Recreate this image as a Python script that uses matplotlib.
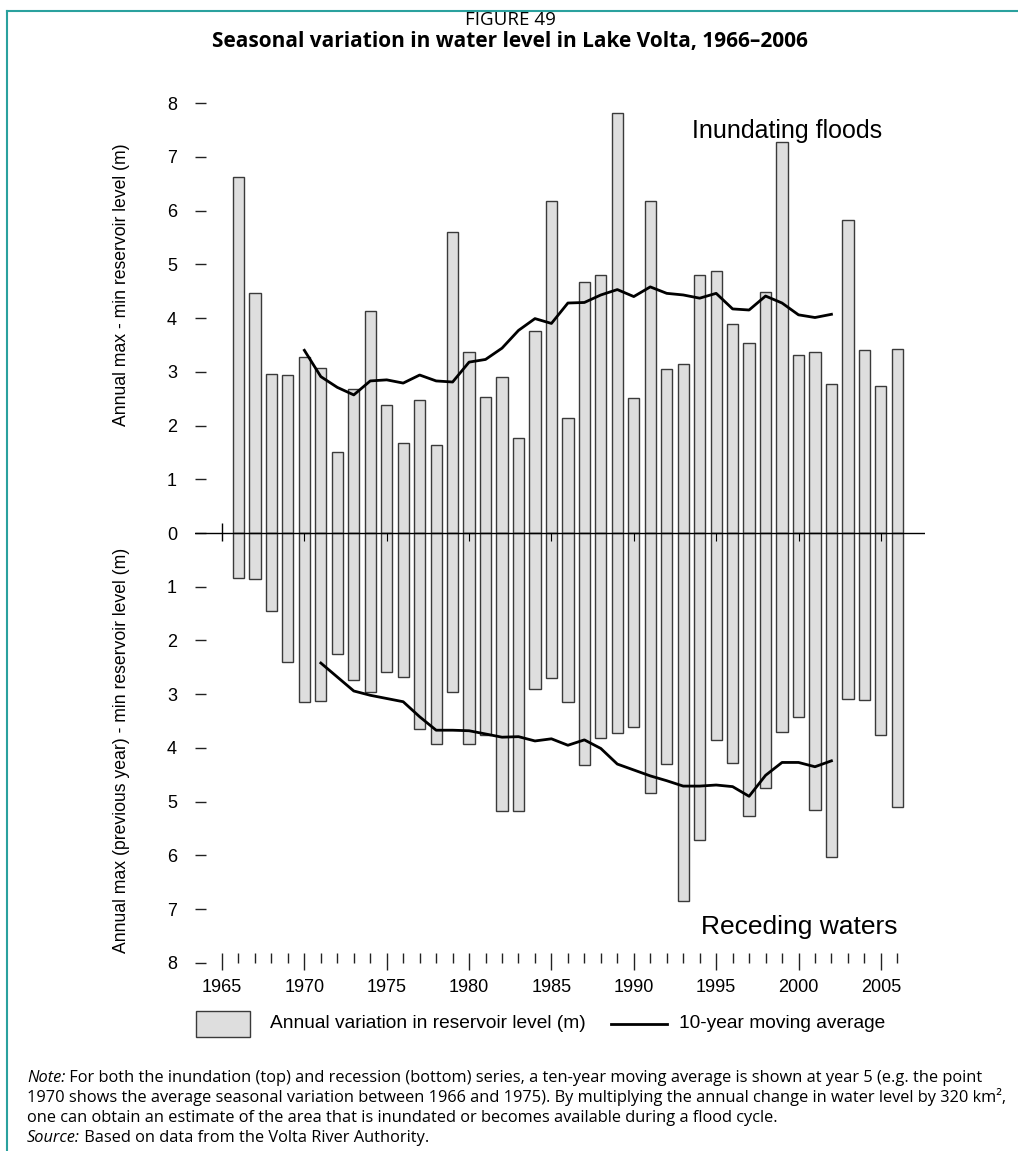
import numpy as np
import matplotlib
matplotlib.use('Agg')
import matplotlib.pyplot as plt
from matplotlib.patches import Rectangle
from matplotlib.lines import Line2D
from matplotlib.ticker import FixedLocator

plt.rcParams['font.family'] = ['Liberation Sans', 'DejaVu Sans']

# annual water-level swing (m), 1966-2006
years = np.arange(1966, 2007)
rise = [6.62, 4.46, 2.95, 2.94, 3.27, 3.07, 1.50, 2.68, 4.14, 2.38,
        1.67, 2.48, 1.63, 5.60, 3.36, 2.53, 2.90, 1.76, 3.76, 6.17,
        2.14, 4.68, 4.81, 7.82, 2.52, 6.18, 3.05, 3.14, 4.81, 4.88,
        3.89, 3.53, 4.48, 7.28, 3.32, 3.36, 2.77, 5.82, 3.41, 2.74, 3.43]
fall = [0.84, 0.86, 1.46, 2.40, 3.15, 3.13, 2.26, 2.74, 2.95, 2.58,
        2.68, 3.64, 3.93, 2.95, 3.92, 3.76, 5.17, 5.17, 2.91, 2.70,
        3.15, 4.32, 3.81, 3.73, 3.61, 4.83, 4.30, 6.84, 5.72, 3.86,
        4.28, 5.26, 4.75, 3.71, 3.43, 5.15, 6.03, 3.09, 3.10, 3.76, 5.09]

# ten-year moving averages
ma_rise_years = np.arange(1970, 2003)
ma_rise = [3.40, 2.91, 2.71, 2.57, 2.83, 2.85, 2.79, 2.94, 2.83, 2.81,
           3.18, 3.23, 3.44, 3.77, 3.99, 3.90, 4.28, 4.29, 4.43, 4.53,
           4.40, 4.58, 4.46, 4.43, 4.37, 4.46, 4.17, 4.15, 4.41, 4.28,
           4.06, 4.01, 4.07]
ma_fall_years = np.arange(1971, 2003)
ma_fall = [2.42, 2.68, 2.94, 3.02, 3.08, 3.14, 3.42, 3.67, 3.67, 3.68,
           3.74, 3.80, 3.79, 3.87, 3.83, 3.95, 3.85, 4.01, 4.30, 4.41,
           4.52, 4.61, 4.71, 4.71, 4.69, 4.72, 4.90, 4.51, 4.27, 4.27,
           4.35, 4.24]

yticks = np.arange(-8, 9)
tick_years = np.arange(1965, 2007)
label_years = np.arange(1965, 2006, 5)

W, H = 1018, 1151
fig = plt.figure(figsize=(W / 100, H / 100), dpi=100)


def fx(px):
    return px / W


def fy(py):
    return 1 - py / H


ax = fig.add_axes([fx(195), fy(979), fx(925) - fx(195), fy(87) - fy(979)])

bar_kw = dict(width=0.68, color='#dedede', edgecolor='#3a3a3a', linewidth=1.0, zorder=2)
ax.bar(years, rise, **bar_kw)
ax.bar(years, -np.array(fall), **bar_kw)

ax.plot(ma_rise_years, ma_rise, color='black', lw=2.0, zorder=4)
ax.plot(ma_fall_years, -np.array(ma_fall), color='black', lw=2.0, zorder=4)

# zero line with its own small year marks
ax.axhline(0, color='black', lw=1.0, zorder=3)
ax.vlines([1965], -0.15, 0.19, color='black', lw=1.0, zorder=3)
ax.vlines(np.arange(1970, 2006, 5), -0.15, 0, color='black', lw=0.8, zorder=3)

ax.set_xlim(1963.36, 2007.68)
ax.set_ylim(-8.3, 8.3)

for s in ax.spines.values():
    s.set_visible(False)
ax.spines['bottom'].set_position(('data', -7.81))

ax.set_yticks(yticks)
ax.set_yticklabels([str(abs(v)) for v in yticks])
ax.tick_params(axis='y', direction='in', length=8, width=1, pad=13,
               labelsize=13, color='#222222')

ax.xaxis.set_major_locator(FixedLocator(label_years))
ax.xaxis.set_minor_locator(FixedLocator(tick_years))
ax.tick_params(axis='x', which='major', direction='out', length=12, width=1,
               pad=7, labelsize=13, color='#222222')
ax.tick_params(axis='x', which='minor', direction='out', length=7, width=1,
               color='#222222')

ax.text(2005.1, 7.35, 'Inundating floods', ha='right', va='baseline', fontsize=18)
ax.text(2006.0, -7.46, 'Receding waters', ha='right', va='baseline', fontsize=19)

fig.text(fx(122), fy(285), 'Annual max - min reservoir level (m)', rotation=90,
         ha='center', va='center', fontsize=12.7)
fig.text(fx(122), fy(750), 'Annual max (previous year) - min reservoir level (m)',
         rotation=90, ha='center', va='center', fontsize=12.7)

# heading
fig.text(fx(510), fy(20), 'FIGURE 49', ha='center', va='center',
         family='Open Sans', fontsize=13.5)
fig.text(fx(510), fy(42), 'Seasonal variation in water level in Lake Volta, 1966\u20132006',
         ha='center', va='center', family='Open Sans', fontweight='bold', fontsize=15)

# frame rules
teal = '#2aa19e'
fig.add_artist(Line2D([fx(7), 1], [fy(11), fy(11)], color=teal, lw=1.5))
fig.add_artist(Line2D([fx(7), fx(7)], [fy(11), 0], color=teal, lw=1.5))

# legend
fig.add_artist(Rectangle((fx(196), fy(1037)), fx(250) - fx(196), fy(1011) - fy(1037),
                         transform=fig.transFigure, facecolor='#dedede',
                         edgecolor='#3a3a3a', lw=1.0))
fig.text(fx(270), fy(1024), 'Annual variation in reservoir level (m)', va='center', fontsize=13.8)
fig.add_artist(Line2D([fx(611), fx(667)], [fy(1024), fy(1024)], color='black', lw=2.0))
fig.text(fx(679), fy(1024), '10-year moving average', va='center', fontsize=13.8)

# notes below the chart
note_lines = [
    ('Note:', ' For both the inundation (top) and recession (bottom) series, a ten-year moving average is shown at year 5 (e.g. the point'),
    ('', '1970 shows the average seasonal variation between 1966 and 1975). By multiplying the annual change in water level by 320 km\u00b2,'),
    ('', 'one can obtain an estimate of the area that is inundated or becomes available during a flood cycle.'),
    ('Source:', ' Based on data from the Volta River Authority.'),
]
renderer = fig.canvas.get_renderer()
note_kw = dict(family='Open Sans', fontsize=11.8, va='baseline')
for i, (lead, rest) in enumerate(note_lines):
    y = fy(1082 + 20 * i)
    x = fx(27)
    if lead:
        t = fig.text(x, y, lead, style='italic', **note_kw)
        bb = t.get_window_extent(renderer)
        x = bb.x1 / W
    fig.text(x, y, rest, **note_kw)

fig.savefig('out.png', dpi=100)
